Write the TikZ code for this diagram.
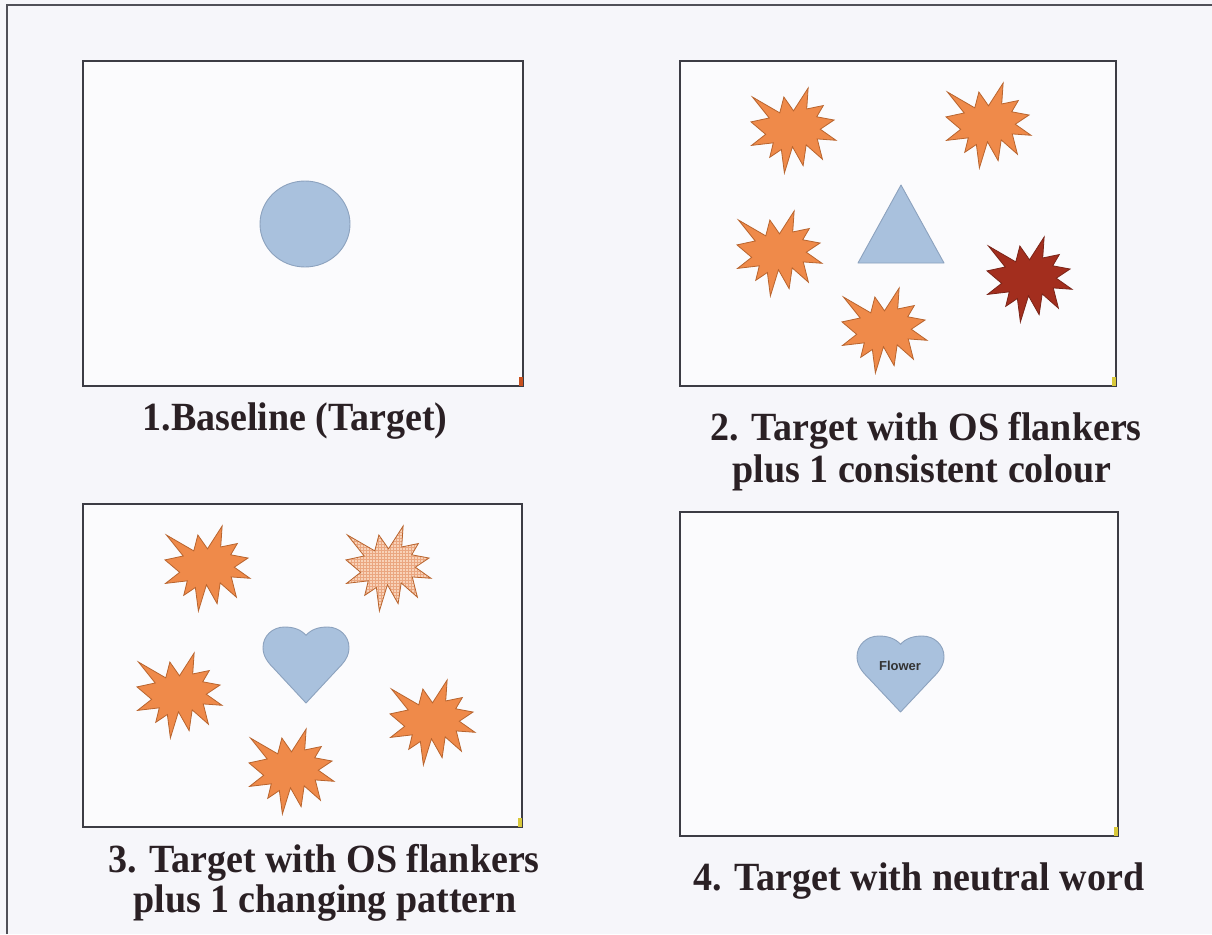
\documentclass[tikz,border=0pt]{standalone}
\usepackage{graphicx}
\usepackage{fontspec}
\setmainfont{Liberation Serif}
\newfontfamily\flowerfont{Liberation Sans}
\usetikzlibrary{patterns}

\definecolor{bg}{HTML}{F6F6FA}
\definecolor{framecol}{HTML}{505058}
\definecolor{panelline}{HTML}{3C3C44}
\definecolor{tblue}{HTML}{A9C1DD}
\definecolor{tblueline}{HTML}{8CA2BE}
\definecolor{orng}{HTML}{EF8A4A}
\definecolor{orngline}{HTML}{B8642E}
\definecolor{dred}{HTML}{A32E1E}
\definecolor{dredline}{HTML}{7A2418}
\definecolor{peach}{HTML}{F8D2B8}
\definecolor{peachgrid}{HTML}{EAA680}
\definecolor{captext}{HTML}{2A2024}
\definecolor{markred}{HTML}{C8501E}
\definecolor{markyel}{HTML}{D8C83A}

% explosion (irregular seal) shape, 85 x 85 px, top-left corner at (#1,#2)
\newcommand\burstat[3]{%
 \begin{scope}[shift={(#1,#2)},x=0.3935pt,y=-0.3935pt]
 \path[#3] (108,58) -- (145.22,0) -- (141.55,53.25) -- (183.80,44.57) -- (167.02,73.15)
   -- (210.97,81.37) -- (176.07,104.75) -- (216,132.90) -- (168.37,129.42)
   -- (181.45,180.95) -- (140.20,144.57) -- (132.47,197.37) -- (105.32,149.35)
   -- (84.85,216) -- (77.15,156.27) -- (47.62,176.17) -- (56.67,139.37)
   -- (1.35,145.87) -- (37.22,117.75) -- (0,86.15) -- (46.27,76.17)
   -- (3.70,22.95) -- (73.12,63.20) -- (83.52,22.95) -- cycle;
 \end{scope}}

% heart shape, top-left (#1,#2), width #3, height #4
\newcommand\heartat[5]{%
 \begin{scope}[shift={(#1,#2)},x=#3pt,y=-#4pt]
 \path[#5] (0.5,0.11) .. controls (0.56,0.03) and (0.65,0) .. (0.75,0)
   .. controls (0.89,0) and (1,0.12) .. (1,0.27)
   .. controls (1,0.39) and (0.94,0.47) .. (0.87,0.55)
   -- (0.5,1) -- (0.13,0.55)
   .. controls (0.06,0.47) and (0,0.39) .. (0,0.27)
   .. controls (0,0.12) and (0.11,0) .. (0.25,0)
   .. controls (0.35,0) and (0.44,0.03) .. cycle;
 \end{scope}}

\begin{document}
\begin{tikzpicture}[x=1pt,y=-1pt,
  panel/.style={draw=panelline, line width=1.6pt, fill=white!55!bg},
  targetshape/.style={fill=tblue, draw=tblueline, line width=0.9pt, line join=round},
  flank/.style={fill=orng, draw=orngline, line width=0.8pt},
  flankdark/.style={fill=dred, draw=dredline, line width=0.8pt},
  caption/.style={font=\fontsize{40}{40}\selectfont\bfseries, text=captext, anchor=base, inner sep=0pt}]

\fill[bg] (0,0) rectangle (1212,934);
\useasboundingbox (0,0) rectangle (1212,934);

% outer frame (top and left edges only)
\draw[framecol, line width=2pt] (7,934) -- (7,5) -- (1212,5);

% ---------- Panel 1 ----------
\draw[panel] (83,61) rectangle (523,386);
\fill[markred] (519,377) rectangle (523,386);
\draw[targetshape] (305,224) ellipse [x radius=45, y radius=43];
\node[caption] (cap1) at (295,430) {\scalebox{0.95}[1]{1.Baseline (Target)}};

% ---------- Panel 2 ----------
\draw[panel] (680,61) rectangle (1116,386);
\fill[markyel] (1112,377) rectangle (1116,386);
\burstat{751}{88}{flank}
\burstat{946}{83}{flank}
\burstat{737}{211}{flank}
\burstat{987}{237}{flankdark}
\burstat{842}{288}{flank}
\draw[targetshape] (858,263) -- (944,263) -- (901,185) -- cycle;
\node[caption] (cap2a) at (926,440) {\scalebox{0.95}[1]{2. Target with OS flankers}};
\node[caption] (cap2b) at (922,482) {\scalebox{0.95}[1]{plus 1 consistent colour}};

% ---------- Panel 3 ----------
\draw[panel] (83,504) rectangle (522,827);
\fill[markyel] (518,818) rectangle (522,827);
\burstat{165}{526}{flank}
\burstat{346}{526}{fill=peach}
\burstat{346}{526}{pattern=grid, pattern color=peachgrid}
\burstat{346}{526}{draw=orngline, line width=0.8pt}
\burstat{137}{653}{flank}
\burstat{390}{680}{flank}
\burstat{249}{729}{flank}
\heartat{263}{627}{86}{76}{targetshape}
\node[caption] (cap3a) at (324,872) {\scalebox{0.95}[1]{3. Target with OS flankers}};
\node[caption] (cap3b) at (325,912) {\scalebox{0.95}[1]{plus 1 changing pattern}};

% ---------- Panel 4 ----------
\draw[panel] (680,512) rectangle (1118,836);
\fill[markyel] (1114,827) rectangle (1118,836);
\heartat{857}{636}{87}{76}{targetshape}
\node[font=\flowerfont\bfseries\fontsize{13}{14}\selectfont, text=black!80, inner sep=0pt] (flower) at (900,666) {Flower};
\node[caption] (cap4) at (919,890) {\scalebox{0.95}[1]{4. Target with neutral word}};

\end{tikzpicture}
\end{document}
